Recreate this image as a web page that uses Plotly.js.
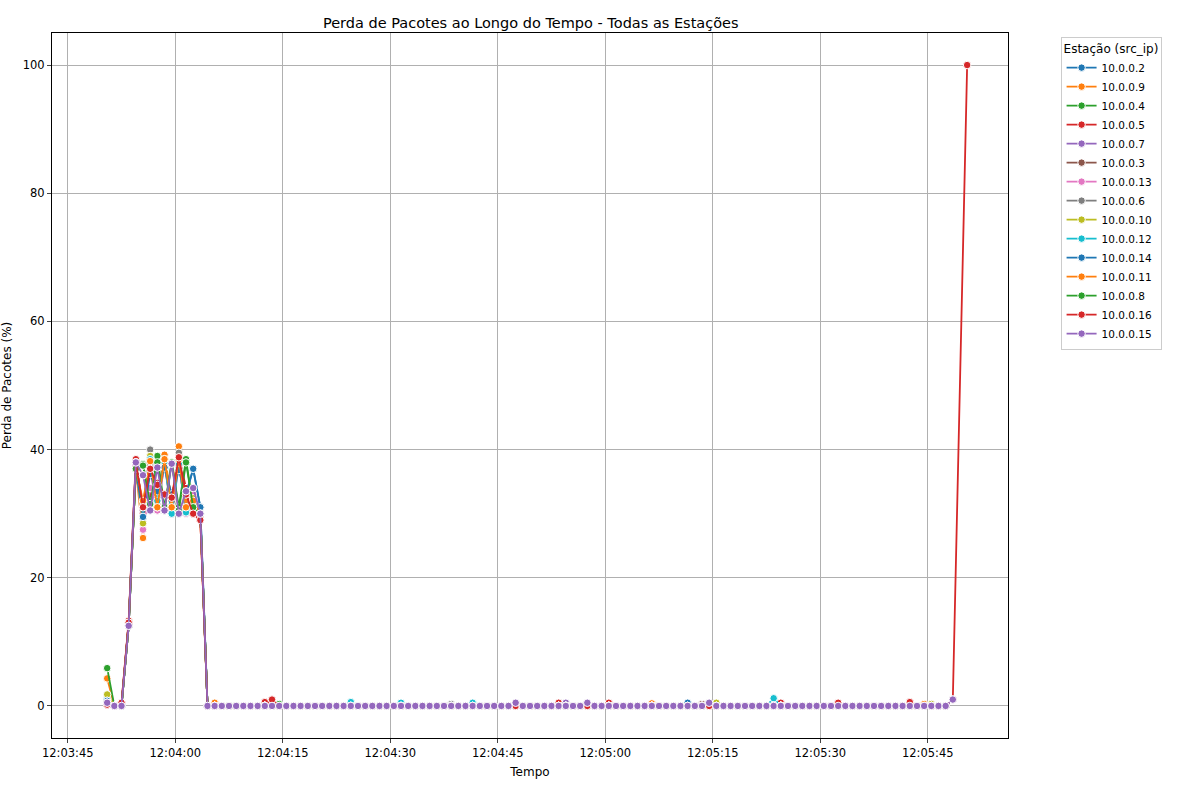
<!DOCTYPE html>
<html>
<head>
<meta charset="utf-8">
<script src="https://cdn.plot.ly/plotly-3.0.1.min.js"></script>
<style>body{margin:0;background:#fff}#plot{width:1190px;height:790px}</style>
</head>
<body>
<div id="plot"></div>
<script>
const stations = ["10.0.0.2","10.0.0.9","10.0.0.4","10.0.0.5","10.0.0.7","10.0.0.3","10.0.0.13","10.0.0.6","10.0.0.10","10.0.0.12","10.0.0.14","10.0.0.11","10.0.0.8","10.0.0.16","10.0.0.15"];
const colors = ["#1f77b4","#ff7f0e","#2ca02c","#d62728","#9467bd","#8c564b","#e377c2","#7f7f7f","#bcbd22","#17becf","#1f77b4","#ff7f0e","#2ca02c","#d62728","#9467bd"];

// first 15 samples (12:03:50 .. 12:04:04)
const peak = {
  "10.0.0.2":  [1.0,0,0,13,37,29.5,38,33,37,33,37,33,37,31,0],
  "10.0.0.9":  [4.3,0,0,13,37,26.2,38.5,32,39.2,32,40.5,32,32,29,0],
  "10.0.0.4":  [5.9,0,0,13,37,37.7,32,39,31,38,31,38.5,31,30,0],
  "10.0.0.5":  [0.2,0,0.5,13.3,38.5,30,33,34.8,33,32,39,34,30,29,0],
  "10.0.0.7":  [0.5,0,0,12.5,38,30.5,37,30.5,37.8,30,37.5,30.5,34,30,0],
  "10.0.0.3":  [0.5,0,0,13,38,31,38,33,38,31,38.5,31,32,30,0],
  "10.0.0.13": [0.3,0,0,12.5,37.5,27.5,34,30.5,37.8,31,38,30,33,30,0],
  "10.0.0.6":  [0.5,0,0,12.5,37,31,40,31.5,38,30.5,39.5,30.5,32,30,0],
  "10.0.0.10": [1.8,0,0,12.5,37,28.5,39,31,38.5,31,38.2,31,32.4,30,0],
  "10.0.0.12": [0.8,0,0,12.5,37,31,38.5,32,38,30,37.8,30.2,31,30,0],
  "10.0.0.14": [0.8,0,0,12.5,37,29.5,36.2,33.5,37.2,33,36.8,33,37,31,0],
  "10.0.0.11": [0.5,0,0,12.5,37,32,38.2,31,38.5,31,38.5,31,32,30,0],
  "10.0.0.8":  [0.5,0,0,12.5,37,37.5,31.5,38,30.5,38,30.5,38,31,30,0],
  "10.0.0.16": [0.2,0,0.5,13,38,31,37,34.5,33,32.5,38.8,33,30,29,0],
  "10.0.0.15": [0.5,0,0,12.5,38,36,30.5,37.2,30.5,37.8,30,33.5,34,30,0]
};
// small non-zero values after the burst: [sample index, value]
const bumps = {
  "10.0.0.2":  [[63,0.5]],
  "10.0.0.9":  [[15,0.5],[76,0.4],[85,0.5]],
  "10.0.0.4":  [[41,0.3],[84,0.4]],
  "10.0.0.5":  [[22,0.6],[63,0.5],[70,0.5],[94,0.5]],
  "10.0.0.7":  [[64,0.5]],
  "10.0.0.3":  [[83,0.3]],
  "10.0.0.13": [[93,0.4]],
  "10.0.0.6":  [[48,0.3]],
  "10.0.0.10": [[85,0.5],[115,0.3]],
  "10.0.0.12": [[23,0.5],[34,0.6],[41,0.5],[51,0.5],[93,1.2]],
  "10.0.0.14": [[81,0.5]],
  "10.0.0.11": [[114,0.3]],
  "10.0.0.8":  [[24,0.3]],
  "10.0.0.16": [[23,1.0],[102,0.5],[112,0.6],[118,1.0],[120,100]],
  "10.0.0.15": [[57,0.5],[67,0.5],[84,0.5],[118,1.0]]
};
const lastIndex = {"10.0.0.16":120,"10.0.0.15":118};
const skipped = {"10.0.0.16":[119]};
const defaultLast = 117;

function timeAt(i) {
  const d = new Date(Date.UTC(2024,0,1,12,3,50,500) + i*1000);
  return d.toISOString().replace("T"," ").replace("Z","");
}

const traces = stations.map((s, k) => {
  const n = (lastIndex[s] || defaultLast) + 1;
  const y = [];
  for (let i = 0; i < n; i++) y.push(i < peak[s].length ? peak[s][i] : 0);
  bumps[s].forEach(([i, v]) => { if (i < n) y[i] = v; });
  const skip = skipped[s] || [];
  const xs = [], ys = [];
  y.forEach((v, i) => { if (!skip.includes(i)) { xs.push(timeAt(i)); ys.push(v); } });
  return {
    type: "scatter", mode: "lines+markers", name: s,
    x: xs, y: ys,
    line: {color: colors[k], width: 1.8},
    marker: {color: colors[k], size: 7.5, line: {color: "white", width: 1}}
  };
});

Plotly.newPlot("plot", traces, {
  width: 1190, height: 790,
  margin: {l: 52, r: 182, t: 33, b: 52},
  paper_bgcolor: "white", plot_bgcolor: "white",
  font: {family: "DejaVu Sans", size: 12, color: "black"},
  title: {text: "Perda de Pacotes ao Longo do Tempo - Todas as Estações", x: 0.446, y: 0.977, font: {size: 14.5}},
  xaxis: {
    type: "date", range: ["2024-01-01 12:03:42.8","2024-01-01 12:05:56.2"],
    tick0: "2024-01-01 12:03:45", dtick: 15000, tickformat: "%H:%M:%S",
    showgrid: true, gridcolor: "#b0b0b0", zeroline: false, showline: true, mirror: true,
    linecolor: "black", ticks: "outside", ticklen: 4, tickfont: {size: 11.5},
    title: {text: "Tempo", standoff: 8, font: {size: 12}}
  },
  yaxis: {
    range: [-5, 105], dtick: 20, showgrid: true, gridcolor: "#b0b0b0", zeroline: false,
    showline: true, mirror: true, linecolor: "black", ticks: "outside", ticklen: 4, tickfont: {size: 11.5},
    title: {text: "Perda de Pacotes (%)", standoff: 8, font: {size: 12}}
  },
  legend: {
    x: 1.055, y: 0.995, xanchor: "left", yanchor: "top",
    bordercolor: "#cccccc", borderwidth: 1, font: {size: 10.5},
    title: {text: "Estação (src_ip)", font: {size: 12}}, tracegroupgap: 0
  },
  showlegend: true
}, {displayModeBar: false});
</script>
</body>
</html>
